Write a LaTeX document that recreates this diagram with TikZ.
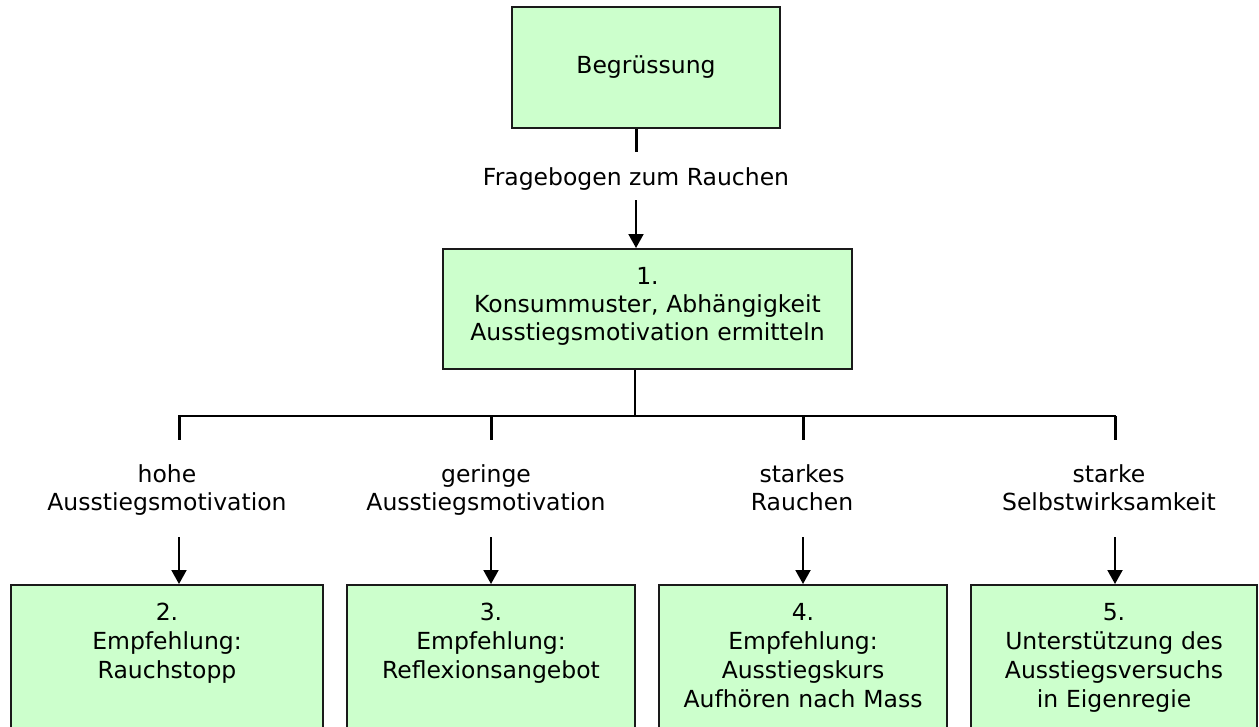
\documentclass[tikz,border=0pt]{standalone}
\usepackage{fontspec}
\setmainfont{DejaVu Sans}
\usetikzlibrary{arrows.meta}
\definecolor{boxgreen}{HTML}{CCFFCC}
\definecolor{boxline}{HTML}{1A1A1A}

\begin{document}
\begin{tikzpicture}[
						x=1pt, y=-1pt,
						font=\fontsize{23.5}{28}\selectfont,
						main/.style = {draw=boxline, fill=boxgreen, line width=2pt, align=center},
						head/.style = {main, text height=17pt, inner xsep=4pt, inner ysep=18pt, anchor=north},
						leaf/.style = {head, text depth=160pt, font=\fontsize{23.5}{29.3}\selectfont},
						cond/.style = {align=center, inner sep=0pt, text height=46pt, text depth=6pt, anchor=north},
						line/.style = {line width=2.5pt, line cap=rect},
						drop/.style = {line width=3pt},
						arr/.style = {line width=2pt, -{Triangle[width=15pt,length=14pt]}}
					]
					\useasboundingbox (0,0) rectangle (1259,726);
					\clip (0,0) rectangle (1259,726);
					\node[main, minimum width=268pt, minimum height=121pt] (begr) at (646,67.5) {Begrüssung};
					\node[cond, anchor=base, text height=18pt] (frage) at (636,185) {Fragebogen zum Rauchen};
					\node[head, text width=401pt, text depth=67pt] (erm) at (647.5,248) {1.\\Konsummuster, Abhängigkeit\\Ausstiegsmotivation ermitteln};
					\node[leaf, text width=304pt] (rauch) at (167,584) {2.\\Empfehlung:\\Rauchstopp};
					\node[leaf, text width=280pt] (refl) at (491,584) {3.\\Empfehlung:\\Reflexionsangebot};
					\node[leaf, text width=280pt] (kurs) at (803,584) {4.\\Empfehlung:\\Ausstiegskurs\\Aufhören nach Mass};
					\node[leaf, text width=278pt] (eigen) at (1114,584) {5.\\Unterstützung des\\Ausstiegsversuchs\\in Eigenregie};
					\node[cond] (hoch) at (167,464) {hohe\\Ausstiegsmotivation};
					\node[cond] (gering) at (486,464) {geringe\\Ausstiegsmotivation};
					\node[cond] (stark) at (802,464) {starkes\\Rauchen};
					\node[cond] (selbst) at (1109,464) {starke\\Selbstwirksamkeit};
					\coordinate (mitte) at (635,416);
					\coordinate (a1) at (179,416);
					\coordinate (a2) at (491,416);
					\coordinate (a3) at (803,416);
					\coordinate (a4) at (1115,416);
					\draw[drop, shorten >=15pt] (begr.south -| frage) -- (frage.north);
					\draw[arr, shorten <=9pt] (frage.south) -- (frage.south |- erm.north);
					\draw[line width=2pt] (erm.south -| mitte) -- (mitte);
					\draw[line] (a1) -- (a4);
					\foreach \a/\l/\b in {a1/hoch/rauch, a2/gering/refl, a3/stark/kurs, a4/selbst/eigen} {
						\draw[drop, shorten >=24pt] (\a) -- (\l.north -| \a);
						\draw[arr, shorten <=21pt] (\l.south -| \a) -- (\a |- \b.north);
					}
				\end{tikzpicture}
\end{document}
